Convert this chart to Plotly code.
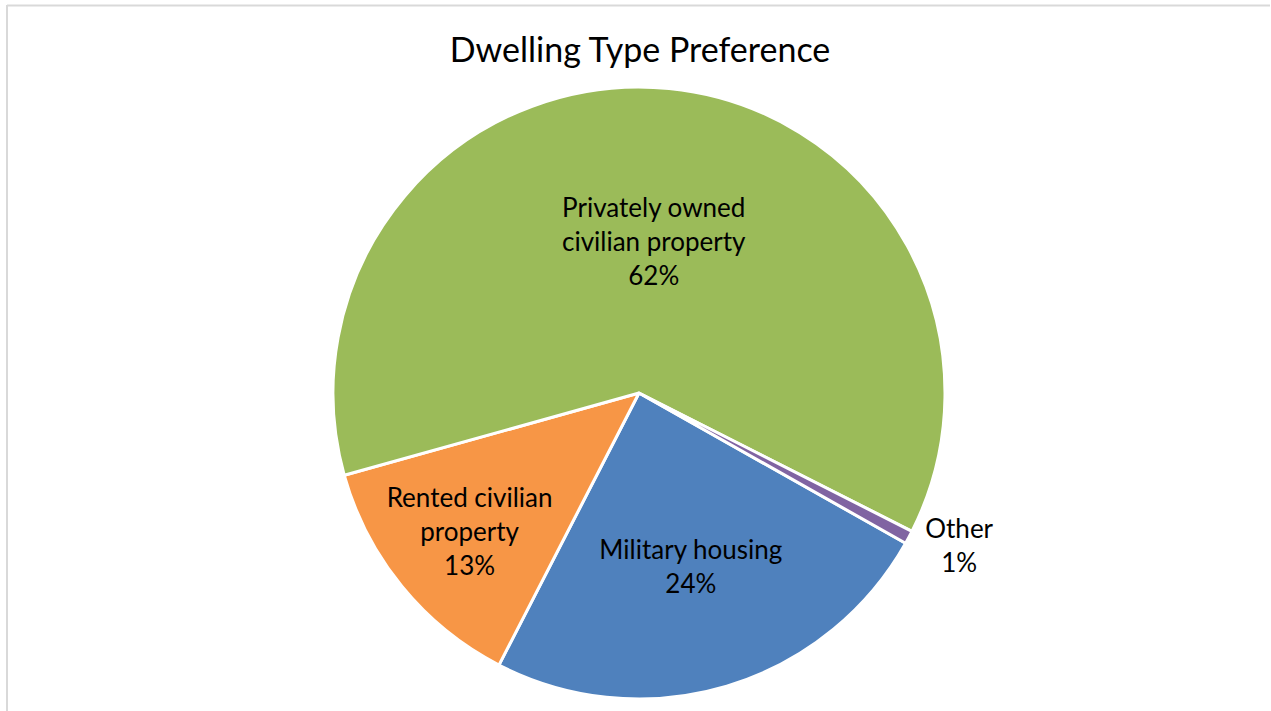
import plotly.graph_objects as go

categories = ["Military housing", "Rented civilian<br>property",
              "Privately owned<br>civilian property", "Other"]
values = [24.4, 13.1, 61.8, 0.7]
colors = ["#4F81BD", "#F79646", "#9BBB59", "#8064A2"]
text_positions = ["inside", "inside", "inside", "outside"]

W, H = 1271, 711
cx, cy, r = 639, 393, 306

fig = go.Figure(go.Pie(
    labels=categories,
    values=values,
    sort=False,
    direction="clockwise",
    rotation=119.4,
    marker=dict(colors=colors, line=dict(color="white", width=3)),
    texttemplate="%{label}<br>%{percent:.0%}",
    textposition=text_positions,
    insidetextorientation="horizontal",
    textfont=dict(family="Lato", size=26, color="black"),
    hoverinfo="label+percent",
    showlegend=False,
    domain=dict(x=[(cx - r) / W, (cx + r) / W], y=[1 - (cy + r) / H, 1 - (cy - r) / H]),
))

fig.update_layout(
    width=W, height=H,
    margin=dict(l=0, r=0, t=0, b=0),
    paper_bgcolor="white",
    uniformtext=dict(minsize=26, mode="show"),
    title=dict(text="Dwelling Type Preference", x=640 / W, xanchor="center",
               y=1 - 50 / H, yanchor="middle",
               font=dict(family="Lato", size=34, color="black")),
    shapes=[
        dict(type="line", xref="paper", yref="paper", x0=7 / W, x1=7 / W, y0=0, y1=1 - 5 / H,
             line=dict(color="#D9D9D9", width=2)),
        dict(type="line", xref="paper", yref="paper", x0=7 / W, x1=1270 / W, y0=1 - 5.5 / H, y1=1 - 5.5 / H,
             line=dict(color="#D9D9D9", width=2)),
    ],
)

fig.write_html("out.html", config={"displayModeBar": False},
               post_script="document.body.style.margin='0';document.body.style.padding='0';")
